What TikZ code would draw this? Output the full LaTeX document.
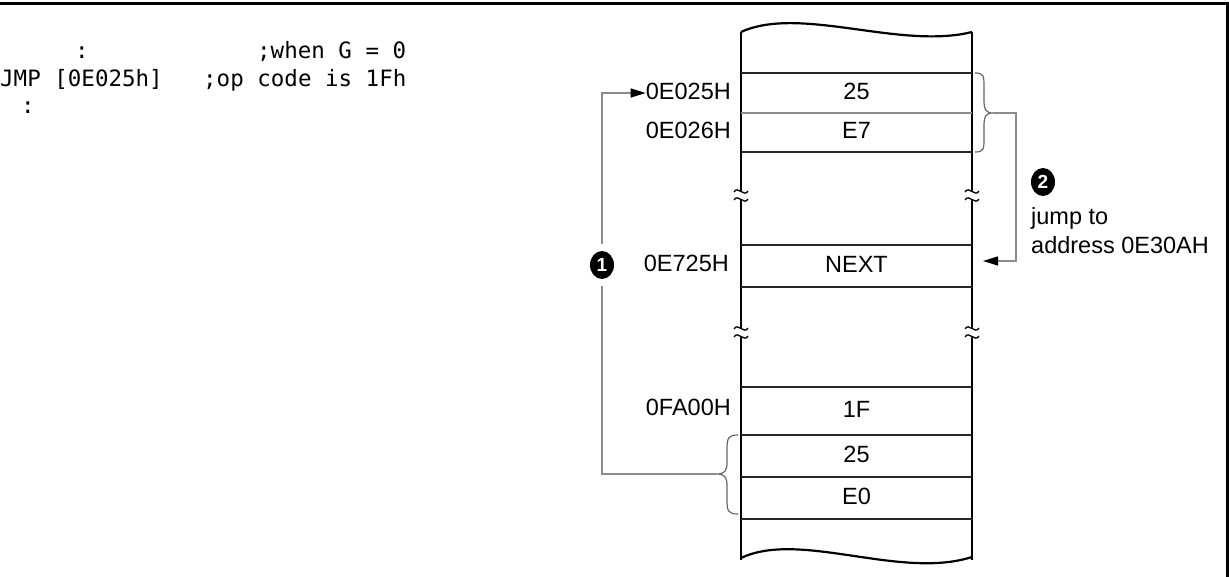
\documentclass[tikz,border=0pt]{standalone}
\usepackage{fontspec}
\setmainfont{Liberation Sans}
\newfontfamily\codefont{DejaVu Sans Mono}
\usetikzlibrary{arrows.meta,shapes.geometric}
\begin{document}
\begin{tikzpicture}[x=1pt,y=-1pt,
  lbl/.style={font=\fontsize{23.5}{27}\selectfont, inner sep=0pt, text height=17pt, text depth=4pt},
  code/.style={font=\codefont\fontsize{22.5}{26}\selectfont, inner sep=0pt, anchor=west, text height=16pt, text depth=5pt},
  cell/.style={lbl, minimum width=231pt},
  rowline/.style={line width=1.4pt, black!85},
  grayrow/.style={line width=1.4pt, black!45},
  col/.style={line width=2.2pt},
  conn/.style={line width=1.4pt, black!45},
  bracestyle/.style={line width=1.2pt, black!60},
  num/.style={ellipse, fill=black, text=white, inner sep=0pt, minimum width=24pt, minimum height=28pt, font=\bfseries\fontsize{19}{19}\selectfont},
  tip/.style={-{Triangle[length=15pt,width=9pt,color=black,fill=black]}},
  brk/.pic={
    \fill[white] (-8,-3) rectangle (8,4);
    \draw[line width=1.3pt] (-7,-3) .. controls (-3,-10) and (3,3) .. (7,-4);
    \draw[line width=1.3pt] (-7,5) .. controls (-3,-2) and (3,11) .. (7,4);
  }
]
\useasboundingbox (0,0) rectangle (1229,577);
% frame
\draw[line width=3pt] (0,4) -- (1229,4);
\draw[line width=3pt] (1227.5,2.5) -- (1227.5,577);

% code
\node[code,anchor=center] (colA) at (82,53) {:};
\node[code] (when) at (257,53) {;when G = 0};
\node[code] (jmp) at (0,81) {JMP [0E025h]};
\node[code] (opc) at (203,81) {;op code is 1Fh};
\node[code,anchor=center] (colB) at (28,108) {:};

% memory column
\draw[col] (741,32) -- (741,560);
\draw[col] (972,32) -- (972,560);
\draw[col] (741,32) .. controls (800,5) and (900,50) .. (972,32);
\draw[col] (741,558) .. controls (800,530) and (900,580) .. (972,557);

\foreach \y in {73,152,245,287,387,435,477,519}
  \draw[rowline] (741,\y) -- (972,\y);
\draw[grayrow] (741,113) -- (972,113);

\foreach \y in {195,332}{
  \pic at (741,\y) {brk};
  \pic at (972,\y) {brk};
}

% cells
\node[cell] (c25a) at (856.5,93) {25};
\node[cell] (cE7) at (856.5,132) {E7};
\node[cell] (cNEXT) at (856.5,266) {NEXT};
\node[cell] (c1F) at (856.5,411) {1F};
\node[cell] (c25b) at (856.5,456) {25};
\node[cell] (cE0) at (856.5,498) {E0};

% addresses
\node[lbl,anchor=east] (a025) at (731,93) {0E025H};
\node[lbl,anchor=east] (a026) at (731,132) {0E026H};
\node[lbl,anchor=east] (a725) at (729,265) {0E725H};
\node[lbl,anchor=east] (afa0) at (731,409) {0FA00H};

% numbered markers
\node[num, outer sep=7pt] (n1) at (602,265) {1};
\node[num] (n2) at (1043,182) {2};
\node[lbl,anchor=west] (j1) at (1031,218) {jump to};
\node[lbl,anchor=west] (j2) at (1031,247) {address 0E30AH};

% braces
\coordinate (bl) at (716,474);
\coordinate (br) at (993,113);
\draw[bracestyle] (738,435) .. controls (728,435) and (727,438) .. (727,450) -- (727,462)
  .. controls (727,471) and (725,474) .. (bl)
  .. controls (725,474) and (727,477) .. (727,486) -- (727,500)
  .. controls (727,511) and (728,514) .. (738,514);
\draw[bracestyle] (975,73) .. controls (984,73) and (984,76) .. (984,88) -- (984,100)
  .. controls (984,110) and (986,113) .. (br)
  .. controls (986,113) and (984,116) .. (984,126) -- (984,138)
  .. controls (984,149) and (984,152) .. (975,152);

% connectors
\draw[conn] (bl) -| (n1.south);
\draw[conn,tip] (n1.north) |- (a025.west);
\coordinate (t2) at (983,261);
\coordinate (k2) at (1016,113);
\draw[conn,tip] (br) -- (k2) |- (t2);
\end{tikzpicture}
\end{document}
